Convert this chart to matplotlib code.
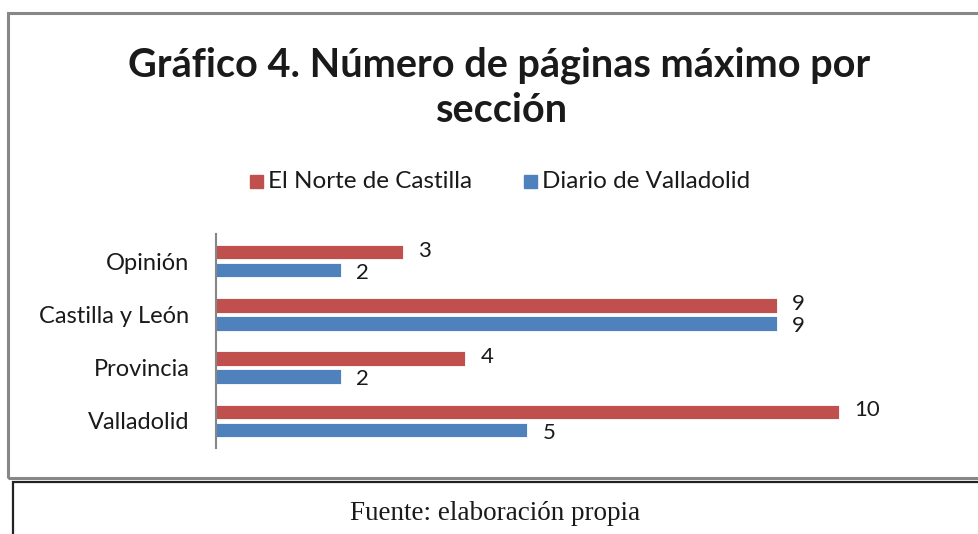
import matplotlib
matplotlib.use("Agg")
import matplotlib.pyplot as plt
from matplotlib.patches import Rectangle

categories = ["Valladolid", "Provincia", "Castilla y León", "Opinión"]
series_names = ["El Norte de Castilla", "Diario de Valladolid"]
norte = [10, 4, 9, 3]
diario = [5, 2, 9, 2]
colors = ["#C0504D", "#4F81BD"]

W, H = 979, 534
fig = plt.figure(figsize=(W / 100, H / 100), dpi=100)
plt.rcParams['font.family'] = ['Lato', 'DejaVu Sans']

def fx(px):
    return px / W

def fy(py):
    return 1 - py / H

# Outer gray chart border
fig.patches.append(Rectangle((fx(8), fy(477.5)), fx(990) - fx(8), fy(13) - fy(477.5),
                             transform=fig.transFigure, fill=False,
                             edgecolor="#878787", linewidth=2.2, clip_on=False))
# Lower black source box
fig.patches.append(Rectangle((fx(13.5), fy(560)), fx(995) - fx(13.5), fy(482) - fy(560),
                             transform=fig.transFigure, fill=False,
                             edgecolor="#222222", linewidth=1.6, clip_on=False))

# Axes area
ax = fig.add_axes([fx(216), fy(448), fx(963.6) - fx(216), fy(234) - fy(448)])
pos = list(range(len(categories)))
bh = 0.27
off = 0.17
ax.barh([p + off for p in pos], norte, height=bh, color=colors[0],
        edgecolor="white", linewidth=0.6)
ax.barh([p - off for p in pos], diario, height=bh, color=colors[1],
        edgecolor="white", linewidth=0.6)
ax.set_xlim(0, 12)
ax.set_ylim(-0.51, 3.51)
ax.set_yticks(pos)
ax.set_yticklabels(categories, fontsize=17, color="#1a1a1a")
ax.tick_params(axis="y", length=0, pad=19)
ax.set_xticks([])
for s in ["top", "right", "bottom"]:
    ax.spines[s].set_visible(False)
ax.spines["left"].set_color("#868686")
ax.spines["left"].set_linewidth(1.5)

for p, v in zip(pos, norte):
    ax.annotate(str(v), (v, p + off), xytext=(11, 1), textcoords="offset points",
                va="center", ha="left", fontsize=16, color="#1a1a1a")
for p, v in zip(pos, diario):
    ax.annotate(str(v), (v, p - off), xytext=(11, -2), textcoords="offset points",
                va="center", ha="left", fontsize=16, color="#1a1a1a")

# Title
fig.text(fx(499), fy(65), "Gráfico 4. Número de páginas máximo por", ha="center",
         va="center", fontsize=28.5, fontweight="bold", color="#1a1a1a")
fig.text(fx(502), fy(111), "sección", ha="center", va="center", fontsize=28.5,
         fontweight="bold", color="#1a1a1a")

# Legend
leg_x = [250, 524]
for lx, name, c in zip(leg_x, series_names, colors):
    fig.patches.append(Rectangle((fx(lx), fy(188)), fx(13), fy(175) - fy(188),
                                 transform=fig.transFigure, color=c))
    fig.text(fx(lx + 18), fy(181), name, ha="left", va="center", fontsize=17.5,
             color="#1a1a1a")

# Source
fig.text(fx(495), fy(514), "Fuente: elaboración propia", ha="center", va="center",
         fontsize=19.5, family=["Liberation Serif", "DejaVu Serif"], color="#1a1a1a")

fig.savefig("out.png", dpi=100)
